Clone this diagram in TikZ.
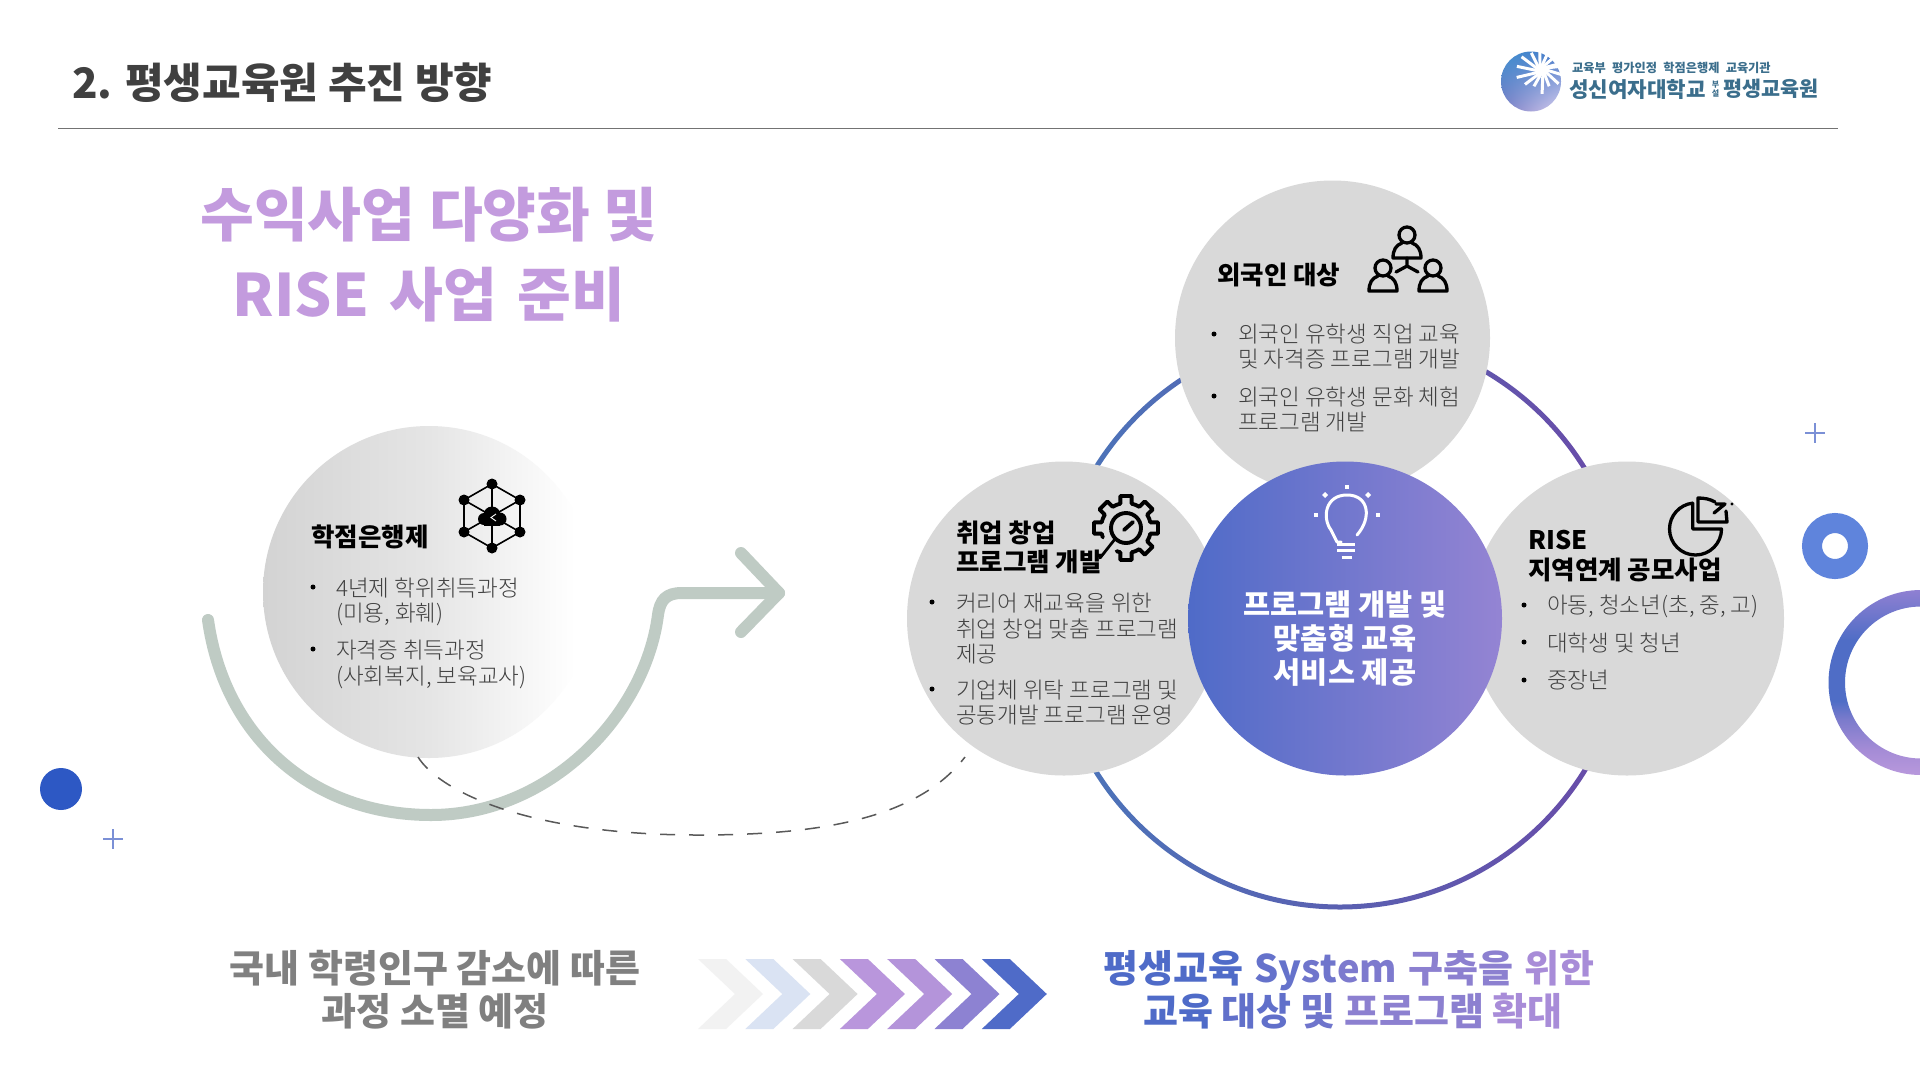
\documentclass[tikz,border=0pt]{standalone}
\usepackage{fontspec}
\usetikzlibrary{shadings}
\setmainfont{Noto Sans CJK KR}
\newfontfamily\lightf{Noto Sans CJK KR Light}
\newfontfamily\blackf{Noto Sans CJK KR Black}
\definecolor{ctitle}{HTML}{404040}
\definecolor{cgray}{HTML}{D9D9D9}
\definecolor{cpurple}{HTML}{C39BDE}
\definecolor{cblue}{HTML}{4F6BC8}
\definecolor{cviolet}{HTML}{9484D3}
\definecolor{cgreen}{HTML}{BFCBC4}
\definecolor{cteal}{HTML}{3B6E8C}
\definecolor{gra}{HTML}{6F75CC}
\definecolor{grb}{HTML}{8C80D0}
\definecolor{grc}{HTML}{A88CD8}
\definecolor{rta}{HTML}{B898DC}
\definecolor{rtb}{HTML}{A58CD6}
\definecolor{rtc}{HTML}{7B7BCC}
\definecolor{rtd}{HTML}{4F6DC6}
\definecolor{rte}{HTML}{8F80D2}
\definecolor{lga}{HTML}{3F90D0}
\definecolor{lgb}{HTML}{4A78C8}
\definecolor{lgc}{HTML}{7A7CC4}
\definecolor{lgd}{HTML}{D8D0F0}
\definecolor{fda}{HTML}{D3D3D3}
\definecolor{fdb}{HTML}{E5E5E5}
\pgfdeclareverticalshading{ringv}{100bp}{
 color(0bp)=(rta);
 color(25bp)=(rta);
 color(31.75bp)=(rtb);
 color(40bp)=(rtc);
 color(45bp)=(rtd);
 color(61.5bp)=(rtd);
 color(75bp)=(rte);
 color(100bp)=(rte)}
\pgfdeclarehorizontalshading{fadeh}{100bp}{
 color(0bp)=(fda);
 color(25bp)=(fda);
 color(50bp)=(fdb);
 color(72bp)=(white);
 color(100bp)=(white)}
\begin{document}
\begin{tikzpicture}[x=1pt,y=-1pt,
 txt/.style={inner sep=0,text height=#1*.88pt,text depth=#1*.12pt},
 headtxt/.style={txt=25.5,anchor=west,text=black,font=\blackf\fontsize{25.5}{25.5}\selectfont},
 bodytxt/.style={txt=22.5,anchor=west,text=ctitle,font=\lightf\fontsize{22.5}{22.5}\selectfont},
 bigtxt/.style={txt=58.5,text=cpurple,font=\blackf\fontsize{58.5}{58.5}\selectfont},
 midtxt/.style={txt=29.5,text=white,font=\blackf\fontsize{29.5}{29.5}\selectfont},
 lowtxt/.style={txt=38,font=\blackf\fontsize{38}{38}\selectfont},
 logotxt/.style={txt=20.7,text=cteal,font=\bfseries\fontsize{20.7}{20.7}\selectfont},
 bul/.style={circle,fill=black,inner sep=0,minimum size=5pt},
 bubble/.style={circle,fill=cgray,inner sep=0,minimum size=#1*2pt},
 iconline/.style={draw=black,line width=3.3pt,line cap=round,line join=round},
 plusmark/.style={draw=cblue!75!white,line width=2.5pt},
]
\useasboundingbox (0,0) rectangle (1920,1080);
\fill[white] (0,0) rectangle (1920,1080);

% ---- header
\node[txt=42,anchor=west,text=ctitle,font=\blackf\fontsize{42}{42}\selectfont] (title) at (72,82.5) {2. 평생교육원 추진 방향};
\coordinate (ruleL) at (58,128.5); \coordinate (ruleR) at (1838,128.5);
\draw[color=black!55,line width=1.4pt] (ruleL) -- (ruleR);

% ---- logo
\shade[upper left=lga,upper right=lgb,lower left=lgc,lower right=lgd] (1531,81.5) circle (30);
\foreach \a/\l in {-15/20,10/24,35/22,60/18,85/24,110/18,135/22,160/26,185/25,210/24,235/20,260/18,285/17,310/19,335/17}{
 \fill[white] (1541.5,70) ++(\a:\l) -- ++(\a+95:3) -- (1541.5,70) -- ++(\a-95:3) -- cycle;
}
\node[txt=12.2,anchor=west,text=cteal,font=\bfseries\fontsize{12.2}{12.2}\selectfont] (logoa) at (1572,68) {교육부\hspace{3.5pt} 평가인정\hspace{3.5pt} 학점은행제\hspace{3.5pt} 교육기관};
\node[logotxt,anchor=west,font=\bfseries\fontsize{21.2}{21.2}\selectfont] (logob) at (1569,90) {성신여자대학교};
\node[anchor=center,inner sep=0,align=center,text=cteal,font=\bfseries\fontsize{8}{9}\selectfont] (logoc) at (1715.5,89) {부\\설};
\node[logotxt,anchor=west] (logod) at (1723,88.5) {평생교육원};

% ---- big title
\node[bigtxt] (big1) at (429,214) {수익사업 다양화 및};
\node[bigtxt] (big2) at (429,294) {RISE\hspace{7pt} 사업\hspace{7pt} 준비};

% ---- left accent
\definecolor{cdot}{HTML}{2D58C4}
\fill[cdot] (61,789) circle (21);
\draw[plusmark] (103,839) -- (123,839) (113,829) -- (113,849);
\draw[plusmark] (1805,433) -- (1825,433) (1815,423) -- (1815,443);

% ---- left bubble
\shade[shading=fadeh] (429,592) circle (166);

% green arrow
\coordinate (ga) at (208,620);
\coordinate (gc) at (779,593);
\draw[cgreen,line width=12pt,line cap=round,line join=round]
  (ga) .. controls (225,740) and (315,815) .. (431,815)
  .. controls (550,815) and (645,715) .. (658,615)
  .. controls (660,600) and (666,593) .. (682,593) -- (gc);
\coordinate (gh1) at (741,553); \coordinate (gh2) at (741,632);
\draw[cgreen,line width=12pt,line cap=round,line join=round] (gh1) -- (gc) -- (gh2);

% dashed
\coordinate (da) at (418,757); \coordinate (dm) at (698,835); \coordinate (db) at (965,757);
\draw[black!65,line width=1.5pt,dash pattern=on 15pt off 14pt]
  (da) .. controls (440,792) and (530,835) .. (dm) .. controls (810,835) and (915,822) .. (db);

\node[headtxt] (hd1) at (311,537) {학점은행제};
\node[bul] (b11) at (313,587) {};
\node[bodytxt] (t11) at (336,588) {4년제 학위취득과정};
\node[bodytxt] (t12) at (336,613) {(미용, 화훼)};
\node[bul] (b12) at (313,649) {};
\node[bodytxt] (t13) at (336,650) {자격증 취득과정};
\node[bodytxt] (t14) at (336,676) {(사회복지, 보육교사)};

% network icon
\begin{scope}[shift={(492,516)}]
 \foreach \n/\x/\y in {a/0/-32,b/28/-16,c/28/16,d/0/32,e/-28/16,f/-28/-16}{ \coordinate (nw\n) at (\x,\y); }
 \draw[black,line width=1.6pt] (nwa)--(nwb)--(nwc)--(nwd)--(nwe)--(nwf)--cycle;
 \draw[black,line width=1.6pt] (nwa)--(nwd) (nwb)--(nwe) (nwc)--(nwf);
 \foreach \n in {a,b,c,d,e,f}{ \fill[black] (nw\n) circle (5.5); }
 \fill[black] (0,-1) circle (8.5);
 \fill[black] (8,3) circle (6.5);
 \fill[black] (-8,3) circle (6);
 \fill[black] (-8,3) rectangle (8,9.5);
 \draw[white,line width=.9pt] (4,-2) -- (-1,1.5) -- (4,5);
\end{scope}

% ---- ring behind the circles
\definecolor{rla}{HTML}{4A76BA}
\definecolor{rlb}{HTML}{6A4AA8}
\shade[even odd rule,left color=rla,right color=rlb]
  (1340,619.5) circle (290) (1340,619.5) circle (285);

% ---- bubbles
\node[bubble=157.5] (ctop) at (1332.5,338) {};
\node[bubble=157] (cleft) at (1064,618.5) {};
\node[bubble=157] (cright) at (1627,618.5) {};
\shade[left color=cblue,right color=cviolet] (1345,618.5) circle (157);

% ---- centre text
\node[midtxt] (cm1) at (1345,604) {프로그램 개발 및};
\node[midtxt] (cm2) at (1345,638) {맞춤형 교육};
\node[midtxt] (cm3) at (1345,672) {서비스 제공};
% bulb
\begin{scope}[white,line width=3pt,line cap=round,line join=round]
 \draw (1341,542) -- (1337,542) -- (1331,530)
   .. controls (1322,518) and (1325,495) .. (1347,495)
   .. controls (1369,495) and (1372,518) .. (1357,535);
 \draw[line cap=butt] (1337,544) -- (1355,544) (1337,550) -- (1355,550) (1341.5,557) -- (1351.5,557);
 \fill[white] (1347,487) ++(-2,-2) rectangle ++(4,4);
 \fill[white] (1316,515) ++(-2,-2) rectangle ++(4,4);
 \fill[white] (1377.5,515) ++(-2,-2) rectangle ++(4,4);
 \fill[white] (1325,495) ++(0,-3) -- ++(3,3) -- ++(-3,3) -- ++(-3,-3) -- cycle;
 \fill[white] (1368,495) ++(0,-3) -- ++(3,3) -- ++(-3,3) -- ++(-3,-3) -- cycle;
\end{scope}

% ---- top bubble
\node[headtxt] (hd2) at (1217,275) {외국인 대상};
\node[bul] (b21) at (1214,334) {};
\node[bodytxt] (t21) at (1238,334) {외국인 유학생 직업 교육};
\node[bodytxt] (t22) at (1238,359) {및 자격증 프로그램 개발};
\node[bul] (b22) at (1214,396) {};
\node[bodytxt] (t23) at (1238,397) {외국인 유학생 문화 체험};
\node[bodytxt] (t24) at (1238,422) {프로그램 개발};
% people
\foreach \x/\y in {1407/235,1383/268,1433/268}{
 \draw[iconline] (\x,\y) circle (8);
 \draw[iconline] (\x-5,\y+8) .. controls (\x-11,\y+10) and (\x-14,\y+15) .. (\x-14,\y+23) -- (\x+14,\y+23)
    .. controls (\x+14,\y+15) and (\x+11,\y+10) .. (\x+5,\y+8);
}
\draw[iconline] (1407,258) -- (1407,266) (1396,272) -- (1407,266) -- (1418,272);

% ---- left bubble text
\node[headtxt] (hd3a) at (956,533) {취업 창업};
\node[headtxt] (hd3b) at (956,562) {프로그램 개발};
\node[bul] (b31) at (932,602) {};
\node[bodytxt] (t31) at (956,603) {커리어 재교육을 위한};
\node[bodytxt] (t32) at (956,629) {취업 창업 맞춤 프로그램};
\node[bodytxt] (t33) at (956,654) {제공};
\node[bul] (b32) at (932,689) {};
\node[bodytxt] (t34) at (956,690) {기업체 위탁 프로그램 및};
\node[bodytxt] (t35) at (956,715) {공동개발 프로그램 운영};
% gear
\begin{scope}[shift={(1126,528)},iconline/.append style={line width=3.9pt}]
 \foreach \a in {0,45,90,180,225,270,315}{
   \draw[iconline] (\a-13:25) -- (\a-10:32.5) -- (\a+10:32.5) -- (\a+13:25);
 }
 \foreach \a in {0,45,180,225,270,315}{
   \draw[iconline] (\a+13:25) arc (\a+13:\a+32:25);
 }
 \draw[iconline] (103:25) arc (103:112:25);
 \draw[iconline] (158:25) arc (158:167:25);
 \draw[iconline] (0,0) circle (15);
 \draw[iconline] (-2,2) -- (7,-6);
 \draw[iconline,line width=2.8pt] (-11,11) -- (-26,30);
\end{scope}

% ---- right bubble text
\node[headtxt] (hd4a) at (1528,540) {RISE};
\node[headtxt] (hd4b) at (1528,569.5) {지역연계 공모사업};
\node[bul] (b41) at (1524,605) {};
\node[bodytxt] (t41) at (1547,605) {아동, 청소년(초, 중, 고)};
\node[bul] (b42) at (1524,642) {};
\node[bodytxt] (t42) at (1547,643) {대학생 및 청년};
\node[bul] (b43) at (1524,680) {};
\node[bodytxt] (t43) at (1547,680) {중장년};
% pie
\begin{scope}[shift={(0,-1)}]
\draw[iconline] (1692.8,504) -- (1692.8,530) -- (1721.5,530) arc (0:264:26);
\draw[iconline] (1726,512) -- (1727,523) -- (1698,523) -- (1698,499) .. controls (1704,499) and (1710,500) .. (1715,503);
\draw[iconline] (1714,514) -- (1725,505) (1716,505) -- (1725,505);
\fill[black] (1732,505) circle (1.7);
\end{scope}

% ---- decorative rings
\definecolor{cdonut}{HTML}{5F84DC}
\draw[cdonut,line width=20pt] (1835,546) circle (23);
\shade[even odd rule,shading=ringv] (1921,682.5) circle (92.5) (1921,682.5) circle (76);

% ---- bottom text
\node[lowtxt,text=black!50] (bl1) at (435,968) {국내 학령인구 감소에 따른};
\node[lowtxt,text=black!50] (bl2) at (435,1011) {과정 소멸 예정};
\foreach \i/\c in {0/F2F2F2,1/DAE3F3,2/D9D9D9,3/B996DC,4/B494DA,5/8D82D2,6/4F6BC8}{
 \definecolor{tmpc}{HTML}{\c}
 \fill[tmpc] (698+\i*47.3,959) -- ++(28,0) -- ++(37,35) -- ++(-37,35) -- ++(-28,0) -- ++(37,-35) -- cycle;
}
\node[lowtxt] (br1) at (1349,968) {\textcolor{cblue}{평생교육}\hspace{2.5pt} \textcolor{gra!70!cblue}{Sy}\textcolor{gra}{st}\textcolor{gra!50!grb}{em}\hspace{2.5pt} \textcolor{grb}{구축을}\hspace{2.5pt} \textcolor{grc}{위한}};
\node[lowtxt] (br2) at (1353,1011) {\textcolor{cblue}{교육} \textcolor{cblue!45!gra}{대상} \textcolor{gra}{및} \textcolor{grb}{프로그램} \textcolor{grc}{확대}};
\end{tikzpicture}
\end{document}
